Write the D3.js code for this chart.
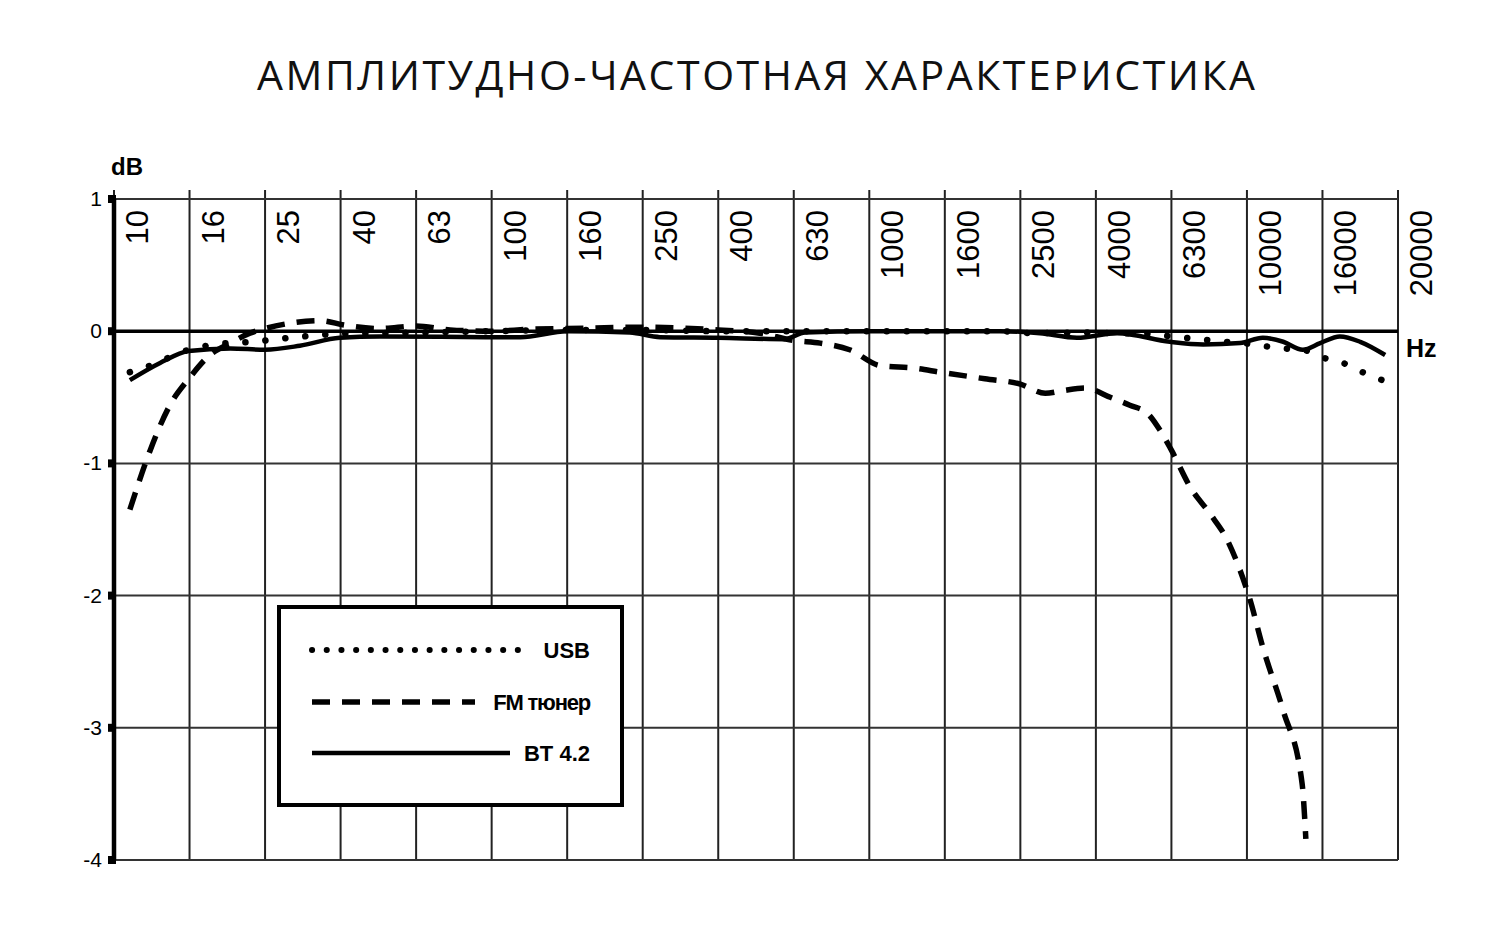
<!DOCTYPE html>
<html><head><meta charset="utf-8">
<script src="https://cdn.jsdelivr.net/npm/d3@7"></script>
<style>html,body{margin:0;padding:0;background:#fff;}svg{display:block;}</style>
</head><body>
<svg id="chart" width="1504" height="929"></svg>
<script>
const title = "АМПЛИТУДНО-ЧАСТОТНАЯ ХАРАКТЕРИСТИКА";
const freqLabels = ["10","16","25","40","63","100","160","250","400","630","1000","1600","2500","4000","6300","10000","16000","20000"];
const yTicks = [1,0,-1,-2,-3,-4];

// positions are fractional indices along the frequency grid
const usbPos = [0.21,0.48,0.99,1.34,1.83,2.33,2.99,4,5,6,7,8,9,10,11,11.73,12.19,12.79,13.28,13.72,14.07,14.38,14.68,14.95,15.2,15.48,15.74,16.01,16.27,16.53,16.79];
const usbDb  = [-0.31,-0.26,-0.14,-0.1,-0.08,-0.05,-0.02,-0.01,0,0.01,0.01,0,0,0,0,0,-0.015,-0.01,-0.015,-0.02,-0.045,-0.06,-0.08,-0.09,-0.11,-0.13,-0.14,-0.2,-0.24,-0.31,-0.37];

const fmPos = [0.21,0.48,0.74,0.99,1.27,1.54,1.8,2.0,2.33,2.73,3.06,3.52,4.0,4.45,5.0,5.51,6.0,6.97,8.0,8.55,9.0,9.35,9.74,10.14,10.6,10.94,11.53,12.0,12.33,12.56,12.86,13.19,13.45,13.68,13.85,14.0,14.25,14.51,14.74,14.91,15.04,15.21,15.48,15.73,15.78];
const fmDb  = [-1.35,-0.9,-0.56,-0.36,-0.18,-0.09,-0.015,0.02,0.06,0.08,0.045,0.02,0.04,0.01,0,0.015,0.02,0.03,0.01,-0.015,-0.07,-0.09,-0.14,-0.26,-0.28,-0.31,-0.36,-0.40,-0.47,-0.45,-0.43,-0.5,-0.56,-0.62,-0.75,-0.9,-1.18,-1.38,-1.58,-1.81,-2.03,-2.39,-2.87,-3.42,-3.84];

const btPos = [0.21,0.61,0.99,1.54,2.0,2.46,2.99,3.52,4.99,5.38,6.0,6.83,7.23,8.0,8.88,9.15,10,11.73,12.26,12.75,13.28,13.98,14.42,14.91,15.21,15.48,15.74,15.97,16.23,16.5,16.83];
const btDb  = [-0.37,-0.24,-0.15,-0.13,-0.14,-0.11,-0.05,-0.04,-0.045,-0.045,0,-0.01,-0.045,-0.05,-0.06,-0.01,0,0,-0.015,-0.05,-0.015,-0.08,-0.1,-0.09,-0.05,-0.08,-0.14,-0.09,-0.04,-0.08,-0.18];

const legendNames = ["USB","FM тюнер","BT 4.2"];

const svg = d3.select("#chart");
const x = d3.scaleLinear().domain([0, freqLabels.length - 1]).range([114, 1398]);
const y = d3.scaleLinear().domain([-4, 1]).range([860, 199]);

svg.append("text").attr("x", 756).attr("y", 90).attr("text-anchor", "middle")
  .attr("font-family", "'Open Sans', sans-serif").attr("font-size", 41).attr("fill", "#111")
  .attr("textLength", 998).attr("lengthAdjust", "spacing").text(title);

// vertical grid
svg.append("g").selectAll("line").data(freqLabels).join("line")
  .attr("x1", (d, i) => x(i)).attr("x2", (d, i) => x(i))
  .attr("y1", 190).attr("y2", y(-4))
  .attr("stroke", "#222").attr("stroke-width", 2);

// horizontal grid
svg.append("g").selectAll("line").data(yTicks.filter(d => d !== 0)).join("line")
  .attr("x1", x(0)).attr("x2", x(freqLabels.length - 1))
  .attr("y1", d => y(d)).attr("y2", d => y(d))
  .attr("stroke", "#333").attr("stroke-width", 2);

// zero line
svg.append("line").attr("x1", x(0)).attr("x2", x(freqLabels.length - 1))
  .attr("y1", y(0)).attr("y2", y(0)).attr("stroke", "#000").attr("stroke-width", 3.5);

// frequency labels
svg.append("g").selectAll("text").data(freqLabels).join("text")
  .attr("transform", (d, i) => `translate(${x(i) + 34},210) rotate(-90)`)
  .attr("text-anchor", "end")
  .attr("font-family", "'Liberation Sans', Arial, sans-serif").attr("font-size", 31).attr("fill", "#000")
  .text(d => d);

// y axis
svg.append("line").attr("x1", x(0)).attr("x2", x(0)).attr("y1", y(1)).attr("y2", y(-4))
  .attr("stroke", "#000").attr("stroke-width", 4.5);
svg.append("g").selectAll("rect").data(yTicks).join("rect")
  .attr("x", x(0) - 6).attr("y", d => y(d) - 4).attr("width", 8).attr("height", 8).attr("fill", "#000");
svg.append("g").selectAll("text").data(yTicks).join("text")
  .attr("x", 102).attr("y", d => y(d) + 7).attr("text-anchor", "end")
  .attr("font-family", "'Liberation Sans', Arial, sans-serif").attr("font-size", 21).attr("fill", "#000")
  .text(d => d);

svg.append("text").attr("x", 111).attr("y", 175)
  .attr("font-family", "'Liberation Sans', Arial, sans-serif").attr("font-weight", "bold").attr("font-size", 24)
  .text("dB");
svg.append("text").attr("x", 1406).attr("y", 357)
  .attr("font-family", "'Liberation Sans', Arial, sans-serif").attr("font-weight", "bold").attr("font-size", 25)
  .text("Hz");

const line = d3.line().x(d => x(d[0])).y(d => y(d[1])).curve(d3.curveMonotoneX);
const zip = (a, b) => a.map((v, i) => [v, b[i]]);

const styles = [
  {w: 6.5, dash: "0.1 20", cap: "round"},
  {w: 5.5, dash: "18 12", cap: "butt"},
  {w: 4.5, dash: null, cap: "butt"}
];
const series = [zip(usbPos, usbDb), zip(fmPos, fmDb), zip(btPos, btDb)];

const plot = svg.append("g");
// draw order: solid under, then dotted, dashed
[2, 0, 1].forEach(k => {
  const p = plot.append("path").attr("d", line(series[k])).attr("fill", "none")
    .attr("stroke", "#000").attr("stroke-width", styles[k].w)
    .attr("stroke-dasharray", styles[k].dash).attr("stroke-linecap", styles[k].cap);
  if (k === 0) {
    // spread dots evenly so that one lands near each end
    const L = p.node().getTotalLength();
    const n = Math.round(L / 20);
    const period = (L - 1) / n;
    p.attr("stroke-dasharray", `0.1 ${period - 0.1}`);
  }
});

// legend
const lg = svg.append("g");
lg.append("rect").attr("x", 279).attr("y", 607).attr("width", 343).attr("height", 198)
  .attr("fill", "#fff").attr("stroke", "#000").attr("stroke-width", 4);
const legY = [650, 702, 753];
const legX2 = [520, 475, 510];
const legDash = ["0.1 14.6", "18 12", null];
legendNames.forEach((name, k) => {
  lg.append("line").attr("x1", 312).attr("x2", legX2[k]).attr("y1", legY[k]).attr("y2", legY[k])
    .attr("stroke", "#000").attr("stroke-width", k === 0 ? 6 : styles[k].w)
    .attr("stroke-dasharray", legDash[k]).attr("stroke-linecap", styles[k].cap);
  lg.append("text").attr("x", 590).attr("y", legY[k] + 8).attr("text-anchor", "end")
    .attr("font-family", "'Liberation Sans', Arial, sans-serif").attr("font-weight", "bold").attr("font-size", 22)
    .attr("letter-spacing", k === 1 ? -1.2 : 0)
    .text(name);
});
</script>
</body></html>
